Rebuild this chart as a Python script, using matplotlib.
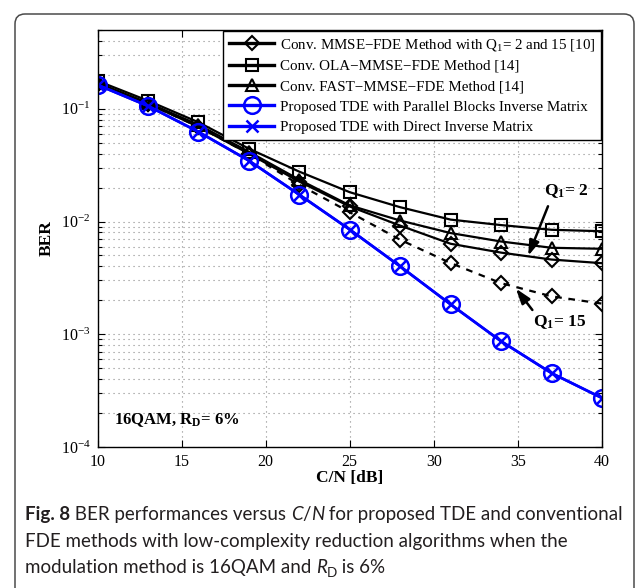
import matplotlib
matplotlib.use('Agg')
import matplotlib.pyplot as plt
from matplotlib.patches import FancyBboxPatch
from matplotlib.transforms import IdentityTransform
from matplotlib.ticker import LogLocator, NullFormatter, FixedLocator

# ---------------- data ----------------
cn_db = [10, 13, 16, 19, 22, 25, 28, 31, 34, 37, 40]
ber_mmse_q2 = [0.166, 0.111, 0.0693, 0.0400, 0.0226, 0.0136, 0.0092, 0.00635, 0.0053, 0.0046, 0.00427]
ber_mmse_q15 = [0.166, 0.111, 0.0693, 0.0400, 0.0212, 0.0121, 0.00689, 0.00428, 0.00284, 0.00217, 0.00187]
ber_ola = [0.177, 0.118, 0.0760, 0.0443, 0.0277, 0.0182, 0.0134, 0.0104, 0.0093, 0.00845, 0.0082]
ber_fast = [0.170, 0.113, 0.0722, 0.0416, 0.0235, 0.0139, 0.0102, 0.0079, 0.00665, 0.00585, 0.00573]
ber_tde_parallel = [0.163, 0.106, 0.0625, 0.0347, 0.0173, 0.00849, 0.0040, 0.00184, 0.000867, 0.000452, 0.000272]
ber_tde_direct = [0.163, 0.106, 0.0625, 0.0347, 0.0173, 0.00849, 0.0040, 0.00184, 0.000867, 0.000452, 0.000272]

x_ticks = [10, 15, 20, 25, 30, 35, 40]
legend_labels = [
    "Conv. MMSE\u2212FDE Method with Q$_1$= 2 and 15 [10]",
    "Conv. OLA\u2212MMSE\u2212FDE Method [14]",
    "Conv. FAST\u2212MMSE\u2212FDE Method [14]",
    "Proposed TDE with Parallel Blocks Inverse Matrix",
    "Proposed TDE with Direct Inverse Matrix",
]
x_label = "C/N [dB]"
y_label = "BER"
info_text = r"16QAM, R$_\mathbf{D}$= 6%"
q2_text = r"Q$_\mathbf{1}$= 2"
q15_text = r"Q$_\mathbf{1}$= 15"

# ---------------- style ----------------
plt.rcParams.update({
    'font.family': ['Liberation Serif', 'DejaVu Serif'],
    'mathtext.fontset': 'custom',
    'mathtext.rm': 'Liberation Serif',
    'mathtext.it': 'Liberation Serif:italic',
    'mathtext.bf': 'Liberation Serif:bold',
})

W, H = 639, 588
fig = plt.figure(figsize=(W / 100, H / 100), dpi=100)
L, R, T, B = 97.5, 602, 30, 447
ax = fig.add_axes([L / W, 1 - B / H, (R - L) / W, (B - T) / H])

lw = 1.6
mew = 1.5
l_ola, = ax.plot(cn_db, ber_ola, color='k', lw=lw, marker='s', ms=8, mfc='none', mew=mew)
l_fast, = ax.plot(cn_db, ber_fast, color='k', lw=lw, marker='^', ms=9, mfc='none', mew=mew)
l_q2, = ax.plot(cn_db, ber_mmse_q2, color='k', lw=lw, marker='D', ms=7.5, mfc='none', mew=mew)
ax.plot(cn_db, ber_mmse_q15, color='k', lw=lw, ls=(0, (3, 3)), marker='D', ms=7.5, mfc='none', mew=mew)
l_par, = ax.plot(cn_db, ber_tde_parallel, color='#0000ff', lw=lw + 0.3, marker='o', ms=12, mfc='none', mew=mew + 0.3)
l_dir, = ax.plot(cn_db, ber_tde_direct, color='#0000ff', lw=lw + 0.3, marker='x', ms=8, mfc='none', mew=mew + 0.3)

ax.set_xlim(10, 40)
ax.set_yscale('log')
ax.set_ylim(1e-4, 0.5)
ax.xaxis.set_major_locator(FixedLocator(x_ticks))
ax.yaxis.set_major_locator(LogLocator(base=10, numticks=10))
ax.yaxis.set_minor_locator(LogLocator(base=10, subs=range(2, 10), numticks=20))
ax.yaxis.set_minor_formatter(NullFormatter())

ax.tick_params(which='both', direction='in', top=True, right=True, labelsize=11.5, pad=5)
ax.tick_params(which='major', length=5, width=0.8)
ax.tick_params(which='minor', length=3, width=0.8)
for s in ax.spines.values():
    s.set_linewidth(1.0)

ax.grid(True, which='major', axis='both', ls=(0, (1, 3.5)), lw=0.8, color='#8a8a8a')
ax.grid(True, which='minor', axis='y', ls=(0, (1, 3.5)), lw=0.8, color='#8a8a8a')
ax.set_axisbelow(True)

ax.set_xlabel(x_label, fontsize=12.5, fontweight='bold')
ax.set_ylabel(y_label, fontsize=12.5, fontweight='bold')
ax.xaxis.set_label_coords(0.5, -(478 - B) / (B - T))
ax.xaxis.label.set_va('center')
ax.yaxis.set_label_coords(-(L - 47) / (R - L), 0.5)
ax.yaxis.label.set_va('center')

leg = ax.legend([l_q2, l_ola, l_fast, l_par, l_dir], legend_labels,
                loc='upper right', bbox_to_anchor=(1.0, 1.0), borderaxespad=0.05,
                fancybox=False, edgecolor='k', framealpha=1, fontsize=10.8,
                handlelength=3.0, handletextpad=0.35, labelspacing=0.45,
                borderpad=0.4, numpoints=1)
leg.get_frame().set_linewidth(1.0)
for h in leg.get_lines():
    h.set_linewidth(2.4)

ax.text(11.0, 1.75e-4, info_text, fontsize=12, fontweight='bold', va='center', ha='left')

# annotations
ax.annotate('', xy=(35.55, 0.00471), xytext=(36.85, 0.0144),
            arrowprops=dict(arrowstyle='-|>,head_length=0.9,head_width=0.3', lw=1.8, color='k'))
ax.text(37.9, 0.0185, q2_text, fontsize=12.5, fontweight='bold', ha='center', va='center')
ax.annotate('', xy=(34.78, 0.00266), xytext=(35.96, 0.00157),
            arrowprops=dict(arrowstyle='-|>,head_length=0.9,head_width=0.3', lw=1.8, color='k'))
ax.text(37.45, 0.00128, q15_text, fontsize=12.5, fontweight='bold', ha='center', va='center')

# outer frame
frame = FancyBboxPatch((15, -40), 634 - 15, (H - 14) + 40, boxstyle='round,pad=0,rounding_size=10',
                       transform=IdentityTransform(), fill=False, edgecolor='#4a4a4a', lw=1.1)
fig.patches.append(frame)

# caption
cap_lines = [
    [("Fig. 8", dict(weight='bold')), (" BER performances versus ", {}), ("C", dict(style='italic')),
     ("/", {}), ("N", dict(style='italic')), (" for proposed TDE and conventional", {})],
    [("FDE methods with low-complexity reduction algorithms when the", {})],
    [("modulation method is 16QAM and ", {}), ("R", dict(style='italic')),
     ("D", dict(scale=0.72, dy=-4)), (" is 6%", {})],
]
cap_baselines = [520, 547, 573]
cap_font = ['Lato', 'DejaVu Sans']
cap_color = '#231f20'

fig.canvas.draw()
renderer = fig.canvas.get_renderer()

def line_width(segs, size):
    w = 0
    tmp = []
    for txt, kw in segs:
        t = fig.text(0, 0, txt, fontsize=size * kw.get('scale', 1), family=cap_font,
                     weight=kw.get('weight', 'normal'), style=kw.get('style', 'normal'))
        w += t.get_window_extent(renderer).width
        tmp.append(t)
    for t in tmp:
        t.remove()
    return w

base = 12.0
w1 = line_width(cap_lines[0], base)
cap_size = base * (622 - 25) / w1

for segs, yb in zip(cap_lines, cap_baselines):
    x = 25.0
    for txt, kw in segs:
        ypix = yb - kw.get('dy', 0)
        t = fig.text(x / W, 1 - ypix / H, txt,
                     fontsize=cap_size * kw.get('scale', 1), family=cap_font,
                     weight=kw.get('weight', 'normal'), style=kw.get('style', 'normal'),
                     va='baseline', ha='left', color=cap_color)
        x += t.get_window_extent(renderer).width

fig.savefig('out.png', dpi=100)
